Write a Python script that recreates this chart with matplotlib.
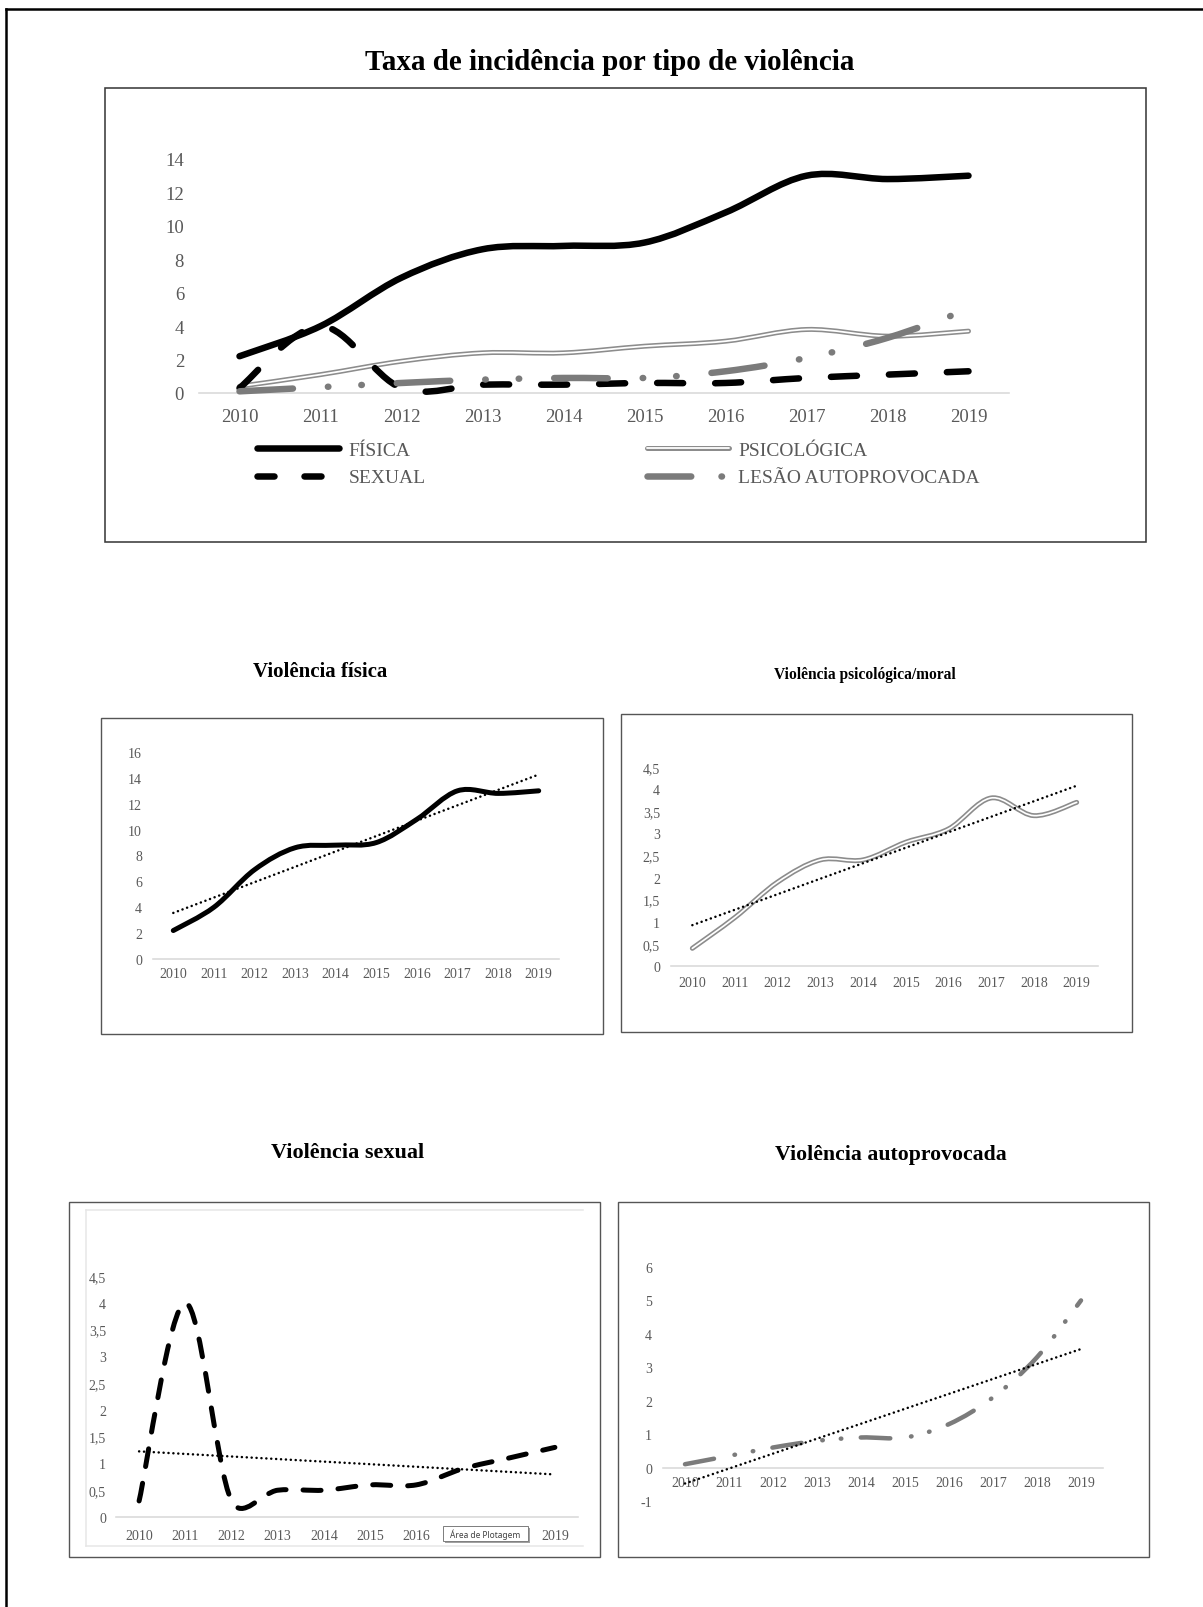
import numpy as np
import matplotlib
matplotlib.use("Agg")
import matplotlib.pyplot as plt
from matplotlib.path import Path
from matplotlib.patches import PathPatch, Rectangle
from matplotlib.lines import Line2D
from matplotlib.ticker import FuncFormatter

W, H, DPI = 1203, 1608, 100

# taxas de incidência por ano
anos = [2010, 2011, 2012, 2013, 2014, 2015, 2016, 2017, 2018, 2019]
fisica = [2.2, 4.0, 6.9, 8.6, 8.8, 9.0, 10.8, 13.0, 12.8, 13.0]
psicologica = [0.4, 1.1, 1.9, 2.4, 2.4, 2.8, 3.1, 3.8, 3.4, 3.7]
sexual = [0.3, 4.0, 0.3, 0.5, 0.5, 0.6, 0.6, 0.9, 1.1, 1.3]
autoprovocada = [0.1, 0.35, 0.6, 0.8, 0.9, 0.9, 1.3, 2.1, 3.3, 5.0]

plt.rcParams["font.family"] = ["Liberation Serif", "DejaVu Serif"]
plt.rcParams["lines.scale_dashes"] = False

GREY_TXT = "#595959"
AXIS_CLR = "#d9d9d9"
PSI_CLR = "#8c8c8c"
LES_CLR = "#7b7b7b"

x = np.arange(len(anos))


def px(v):
    """pixels -> points"""
    return v * 72 / DPI


def dash(*segs):
    return (0, tuple(px(s) for s in segs))


fig = plt.figure(figsize=(W / DPI, H / DPI), dpi=DPI)


def fig_axes(left, top, right, bottom):
    return fig.add_axes([left / W, 1 - bottom / H, (right - left) / W, (bottom - top) / H])


def frame(left, top, right, bottom, color="#4a4a4a", lw=1.6):
    fig.add_artist(Rectangle((left / W, 1 - bottom / H), (right - left) / W, (bottom - top) / H,
                             transform=fig.transFigure, fill=False, ec=color, lw=px(lw)))


def fig_line(xs, ys, color, lw, z=1):
    fig.add_artist(Line2D([v / W for v in xs], [1 - v / H for v in ys],
                          transform=fig.transFigure, color=color, lw=px(lw), zorder=z))


def setup(ax, ymin, ymax, step, fs, pad_y, pad_x, zero_axis=False):
    ax.set_xlim(-0.5, len(anos) - 0.5)
    ax.set_ylim(ymin, ymax)
    ax.set_xticks(x)
    ax.set_xticklabels([str(a) for a in anos])
    ax.set_yticks(np.arange(ymin, ymax + step / 2, step))
    ax.yaxis.set_major_formatter(FuncFormatter(lambda v, p: f"{v:g}".replace(".", ",")))
    for s in ("top", "right", "left"):
        ax.spines[s].set_visible(False)
    ax.spines["bottom"].set_color(AXIS_CLR)
    ax.spines["bottom"].set_linewidth(px(1.6))
    if zero_axis:
        ax.spines["bottom"].set_position(("data", 0))
    ax.tick_params(length=0, labelsize=fs, labelcolor=GREY_TXT)
    ax.tick_params(axis="y", pad=px(pad_y))
    ax.tick_params(axis="x", pad=px(pad_x))
    ax.patch.set_visible(False)


def smooth_path(ax, ys):
    # Bezier "smoothed line", control arms limited to half the segment (screen space)
    x0, x1 = ax.get_xlim()
    y0, y1 = ax.get_ylim()
    bb = ax.get_window_extent()
    sx = bb.width / (x1 - x0)
    sy = bb.height / (y1 - y0)
    P = np.column_stack([x * sx, np.asarray(ys, float) * sy])
    n = len(P)
    verts = [P[0]]
    codes = [Path.MOVETO]
    for i in range(n - 1):
        p0, p1, p2, p3 = P[max(i - 1, 0)], P[i], P[i + 1], P[min(i + 2, n - 1)]
        d12 = np.hypot(*(p2 - p1))
        d02 = np.hypot(*(p2 - p0))
        d13 = np.hypot(*(p3 - p1))
        f0 = min(1 / 6, d12 / (2 * d02)) if d02 > 0 else 0
        f1 = min(1 / 6, d12 / (2 * d13)) if d13 > 0 else 0
        verts += [p1 + (p2 - p0) * f0, p2 - (p3 - p1) * f1, p2]
        codes += [Path.CURVE4] * 3
    verts = np.array(verts) / [sx, sy]
    return Path(verts, codes)


def curve(ax, ys, color, lw, ls="solid", z=2):
    ax.add_patch(PathPatch(smooth_path(ax, ys), fill=False, ec=color, lw=px(lw), linestyle=ls,
                           capstyle="round", joinstyle="round", zorder=z, clip_on=False))


def trend(ax, ys):
    coef = np.polyfit(x, ys, 1)
    ax.plot(x, np.polyval(coef, x), color="black", lw=px(2.5),
            linestyle=dash(0.1, 4.8), dash_capstyle="round", zorder=4)


# page border
fig_line([6, 6], [10, H], "black", 2.5)
fig_line([6, W], [10, 10], "black", 2.5)

# ---- gráfico principal ----
fig.text(610 / W, 1 - 63 / H, "Taxa de incidência por tipo de violência",
         fontsize=21, fontweight="bold", ha="center", va="center")
frame(105, 89, 1146, 543, color="#3c3c3c")

ax = fig_axes(199, 160, 1009, 394)
setup(ax, 0, 14, 2, 13.5, 15, 15)

les_top = dash(53.5, 35, 0.5, 33, 0.5, 35)
sex_top = dash(26, 32)
curve(ax, fisica, "black", 6.5, z=2)
curve(ax, psicologica, PSI_CLR, 5, z=3)
curve(ax, psicologica, "white", 1.8, z=3.1)
curve(ax, sexual, "black", 6.5, ls=sex_top, z=4)
curve(ax, autoprovocada, LES_CLR, 6.5, ls=les_top, z=5)

h_fis = Line2D([], [], color="black", lw=px(6.5), solid_capstyle="round")
h_sex = Line2D([], [], color="black", lw=px(6.5), linestyle=dash(17, 30), dash_capstyle="round")
h_psi = (Line2D([], [], color=PSI_CLR, lw=px(5), solid_capstyle="round"),
         Line2D([], [], color="white", lw=px(1.8), solid_capstyle="round"))
h_les = Line2D([], [], color=LES_CLR, lw=px(6.5), linestyle=dash(43.75, 30.25, 0.5, 40),
               dash_capstyle="round")

leg_kw = dict(loc="upper left", bbox_transform=fig.transFigure, frameon=False,
              fontsize=14, labelcolor=GREY_TXT, handlelength=4.2, handletextpad=0.5,
              labelspacing=0.52, borderpad=0, borderaxespad=0)
leg1 = ax.legend([h_fis, h_sex], ["FÍSICA", "SEXUAL"],
                 bbox_to_anchor=(257 / W, 1 - 442 / H), **leg_kw)
ax.add_artist(leg1)
ax.legend([h_psi, h_les], ["PSICOLÓGICA", "LESÃO AUTOPROVOCADA"],
          bbox_to_anchor=(647 / W, 1 - 442 / H), **leg_kw)

# ---- Violência física ----
fig.text(320 / W, 1 - 672 / H, "Violência física", fontsize=15, fontweight="bold",
         ha="center", va="center")
frame(101, 719, 603, 1035, color="#555555", lw=1.4)
ax = fig_axes(153, 753, 559, 960)
setup(ax, 0, 16, 2, 10, 11, 8.5)
curve(ax, fisica, "black", 5)
trend(ax, fisica)

# ---- Violência psicológica/moral ----
fig.text(865 / W, 1 - 675 / H, "Violência psicológica/moral", fontsize=11.2, fontweight="bold",
         ha="center", va="center")
frame(621, 715, 1132, 1033, color="#555555", lw=1.4)
ax = fig_axes(671, 768, 1098, 967)
setup(ax, 0, 4.5, 0.5, 10, 11, 10)
curve(ax, psicologica, PSI_CLR, 5)
curve(ax, psicologica, "white", 1.7, z=2.1)
trend(ax, psicologica)

# ---- Violência sexual ----
fig.text(348 / W, 1 - 1153 / H, "Violência sexual", fontsize=16, fontweight="bold",
         ha="center", va="center")
frame(69, 1203, 600, 1558, color="#555555", lw=1.4)
fig_line([86, 583], [1211, 1211], "#e6e6e6", 1.5)
fig_line([86, 86], [1211, 1547], "#e6e6e6", 1.5)
fig_line([86, 583], [1547, 1547], "#e6e6e6", 1.5)
ax = fig_axes(116, 1277, 578, 1518)
setup(ax, 0, 4.5, 0.5, 10, 10, 12.5)
curve(ax, sexual, "black", 5, ls=dash(18, 17))
trend(ax, sexual)
# os rótulos 2017 e 2018 ficam escondidos sob a dica "Área de Plotagem"
for lab in ax.get_xticklabels():
    if lab.get_text() in ("2017", "2018"):
        lab.set_visible(False)

# caixa de dica do Excel sobre o eixo
fig.add_artist(Rectangle((445 / W, 1 - 1544 / H), 85 / W, 15 / H, transform=fig.transFigure,
                         fc="#a0a0a0", ec="none", zorder=5))
fig.add_artist(Rectangle((443 / W, 1 - 1542 / H), 85 / W, 15 / H, transform=fig.transFigure,
                         fc="white", ec="#808080", lw=px(1), zorder=6))
fig.text(485.5 / W, 1 - 1534.5 / H, "Área de Plotagem", fontsize=6, family="Noto Sans",
         color="#404040", ha="center", va="center", zorder=7)

# ---- Violência autoprovocada ----
fig.text(891 / W, 1 - 1155 / H, "Violência autoprovocada", fontsize=15.7, fontweight="bold",
         ha="center", va="center")
frame(618, 1203, 1149, 1558, color="#555555", lw=1.4)
ax = fig_axes(663, 1268, 1103, 1502)
setup(ax, -1, 6, 1, 10, 11, 8, zero_axis=True)
curve(ax, autoprovocada, LES_CLR, 4.5, ls=dash(29.5, 20.9, 0.5, 18.1, 0.5, 19.5))
trend(ax, autoprovocada)

fig.savefig("out.png", dpi=DPI)
